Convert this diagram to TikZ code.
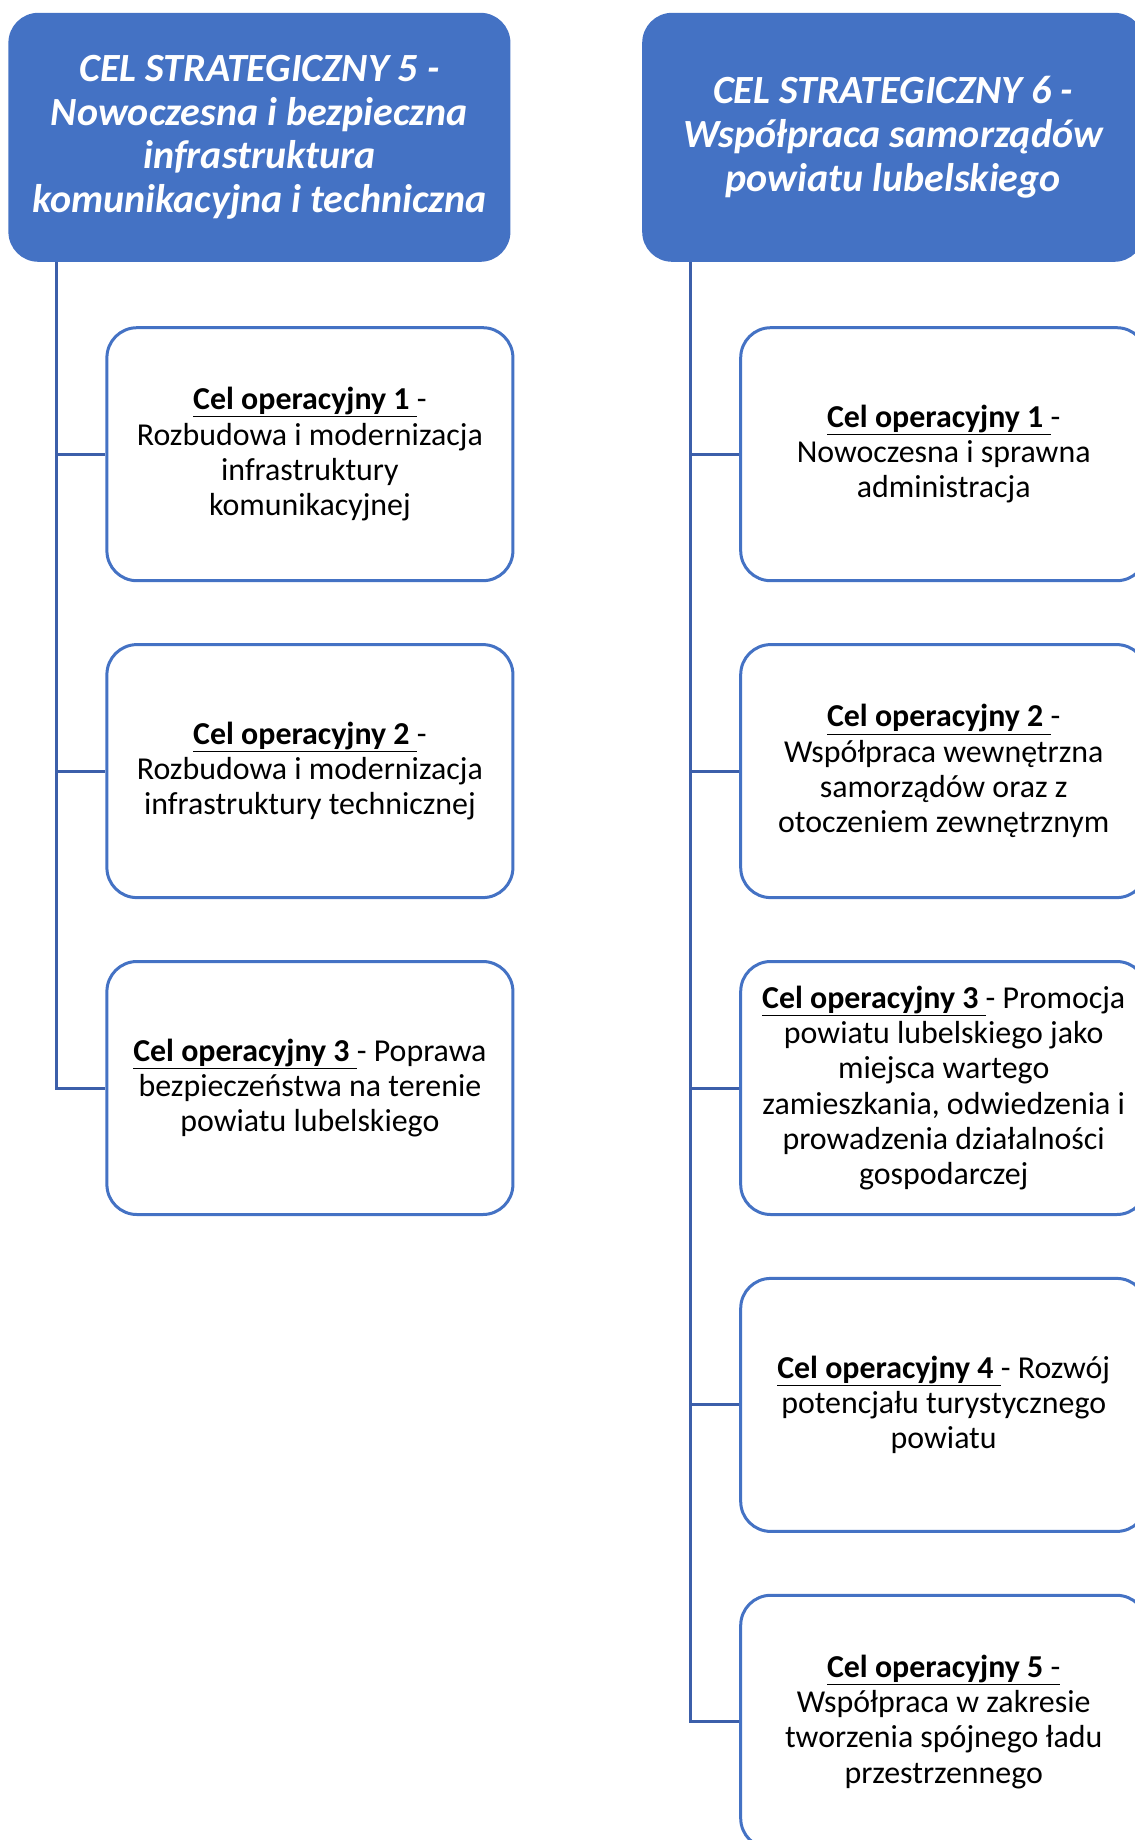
\documentclass[tikz,border=0pt]{standalone}
\usepackage{fontspec}
\setmainfont{Carlito}
\definecolor{niebieski}{RGB}{68,114,196}
\definecolor{linia}{RGB}{60,95,170}

\begin{document}
\begin{tikzpicture}[x=1pt, y=-1pt,
  naglowek/.style={rectangle, rounded corners=30pt, fill=niebieski, text=white,
    minimum width=502pt, minimum height=249pt, align=center,
    font=\fontsize{40}{43.8}\selectfont\bfseries\itshape},
  celop/.style={rectangle, rounded corners=30pt, draw=niebieski, line width=3pt,
    fill=white, minimum width=406pt, minimum height=253pt, align=center,
    font=\fontsize{31.9}{35.2}\selectfont},
  galaz/.style={draw=linia, line width=3pt}]

\useasboundingbox (0,0) rectangle (1135,1840);

% cel strategiczny 5
\node[naglowek] (s5) at (259.4,137.3) {CEL STRATEGICZNY 5 -\\Nowoczesna i bezpieczna\\infrastruktura\\komunikacyjna i techniczna};

\node[celop] (o51) at (309.9,454.2) {\underline{\textbf{Cel operacyjny 1}\ }-\\Rozbudowa i modernizacja\\infrastruktury\\komunikacyjnej};
\node[celop] (o52) at (309.9,771.1) {\underline{\textbf{Cel operacyjny 2}\ }-\\Rozbudowa i modernizacja\\infrastruktury technicznej};
\node[celop] (o53) at (309.9,1088) {\underline{\textbf{Cel operacyjny 3}\ }- Poprawa\\bezpieczeństwa na terenie\\powiatu lubelskiego};

\coordinate (p5) at ([xshift=48pt]s5.south west);

\draw[galaz] (p5) |- (o51.west);
\draw[galaz] (p5) |- (o52.west);
\draw[galaz] (p5) |- (o53.west);

% cel strategiczny 6
\begin{scope}[xshift=633.8pt]

\node[naglowek] (s6) at (259.4,137.3) {CEL STRATEGICZNY 6 -\\Współpraca samorządów\\powiatu lubelskiego};

\node[celop] (o61) at (309.9,454.2) {\underline{\textbf{Cel operacyjny 1}\ }-\\Nowoczesna i sprawna\\administracja};
\node[celop] (o62) at (309.9,771.1) {\underline{\textbf{Cel operacyjny 2}\ }-\\Współpraca wewnętrzna\\samorządów oraz z\\otoczeniem zewnętrznym};
\node[celop] (o63) at (309.9,1088) {\underline{\textbf{Cel operacyjny 3}\ }- Promocja\\powiatu lubelskiego jako\\miejsca wartego\\zamieszkania, odwiedzenia i\\prowadzenia działalności\\gospodarczej};
\node[celop] (o64) at (309.9,1404.9) {\underline{\textbf{Cel operacyjny 4}\ }- Rozwój\\potencjału turystycznego\\powiatu};
\node[celop] (o65) at (309.9,1721.8) {\underline{\textbf{Cel operacyjny 5} -}\\Współpraca w zakresie\\tworzenia spójnego ładu\\przestrzennego};

\coordinate (p6) at ([xshift=48pt]s6.south west);

\draw[galaz] (p6) |- (o61.west);
\draw[galaz] (p6) |- (o62.west);
\draw[galaz] (p6) |- (o63.west);
\draw[galaz] (p6) |- (o64.west);
\draw[galaz] (p6) |- (o65.west);
\end{scope}

\end{tikzpicture}
\end{document}
